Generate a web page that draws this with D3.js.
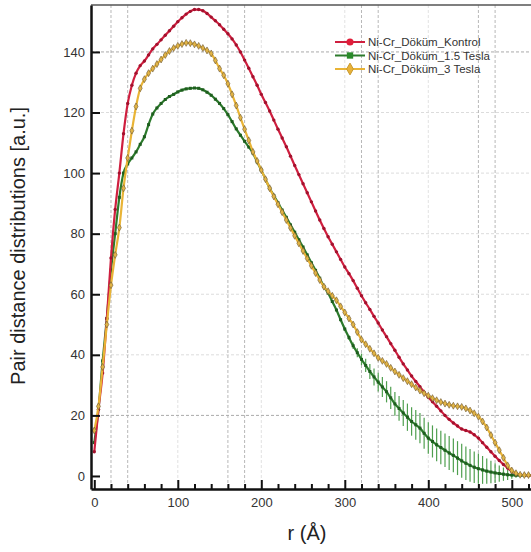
<!DOCTYPE html>
<html>
<head>
<meta charset="utf-8">
<script src="https://cdn.jsdelivr.net/npm/d3@7"></script>
<style>
  body { margin: 0; background: #fff; }
  svg { display: block; font-family: "Liberation Sans", Arial, sans-serif; }
</style>
</head>
<body>
<svg id="chartSvg" width="531" height="552"></svg>
<script>
      // r values (Angstrom), one sample every 5
      var rValues = [0,5,10,15,20,25,30,35,40,45,50,55,60,65,70,75,80,85,90,95,
        100,105,110,115,120,125,130,135,140,145,150,155,160,165,170,175,180,185,190,195,
        200,205,210,215,220,225,230,235,240,245,250,255,260,265,270,275,280,285,290,295,
        300,305,310,315,320,325,330,335,340,345,350,355,360,365,370,375,380,385,390,395,
        400,405,410,415,420,425,430,435,440,445,450,455,460,465,470,475,480,485,490,495,
        500,505,510,515,520,525];

      var kontrolValues = [8,22,34,52,72,88,100,113,123,129,133,135.5,137,139,141,142.5,144,145.5,147,148.5,
        150,151.3,152.5,153.4,154,154,153.6,152.7,151.5,150.3,149,147.5,146,144.3,142.3,140,137.3,134.6,131.8,129,
        126,123.3,120.5,117.5,114.5,111.6,108.7,105.6,102.5,99.5,96.5,93.5,90.5,87.5,84.5,81.7,79,76.5,74,71.5,
        69,66.8,64.5,62,59.5,57.2,55,52.7,50.5,48.2,46,43.7,41.5,39.2,37,35,33,31.2,29.5,27.7,
        26,24.5,23,21.5,20,18.7,17.5,16.5,15.5,15,14.5,13.6,12.5,11,9.5,8,6.5,5.1,3.8,2.6,
        1.5,0.8,0.4,0.3,0.2,0.2];

      var tesla15Values = [11,22,38,52,68,80,92,100,103,105,107,109.5,112,116,119.5,121.5,123,124.3,125.3,126,
        126.8,127.4,127.8,128,128.1,128,127.5,126.7,125.7,124.4,123,121.3,119.3,117,114.6,112.5,110.5,108.6,106.6,103.7,
        101,98,95,92.6,90.2,87.8,85.4,82.9,80.5,78,75.6,73,70.4,67.9,65.3,62.6,60.4,57.6,54.8,51.6,
        48.5,45.7,43,40.7,38.5,36.5,34.5,32.7,31,29.4,27.8,25.8,23.8,22.3,20.8,19.4,18,16.9,15.8,14.1,
        12.5,11.4,10.3,9.4,8.5,7.6,6.8,5.9,5,4.2,3.5,2.9,2.4,2,1.6,1.3,1,0.8,0.6,0.4,
        0.3,0.2,0.2,0.2,0.2,0.2];

      var tesla15Errors = [0,0,0,0,0,0,0,0,0,0,0,0,0,0,0,0,0,0,0,0,
        0,0,0,0,0,0,0,0,0,0,0,0,0,0,0,0,0,0,0,0,
        0,0,0,0,0,0,0,0,0,0,0,0,0,0,0,0,0.2,0.3,0.4,0.5,
        0.6,0.8,1.1,1.5,1.9,2.2,2.5,2.8,3.1,3.3,3.5,3.7,3.9,4.1,4.3,4.5,4.7,4.9,5,5.1,
        5.2,5.3,5.4,5.5,5.5,5.6,5.6,5.6,5.6,5.5,5.4,5.2,5,4.6,4.2,3.7,3.2,2.7,2.2,1.7,
        1.2,0.8,0.5,0.3,0.2,0.2];

      var tesla3Values = [15,23,36,50,63,73,82,95,105,114,122,128,131,133,134.5,136,137.5,139,140.3,141.3,
        142,142.6,143,142.9,142.5,142,141.3,140.5,139.5,137.2,134.5,132.3,129.5,126,122.3,118.3,114.5,110.8,107,104,
        101,98,95,92.3,89.7,87.1,84.5,81.9,79.3,76.8,74.3,71.8,69.4,67,64.7,62.5,61,59.5,58,56,
        54,52,50,47.5,45,43.5,42,40.5,39,38,37,35.7,34.5,33.4,32.3,31.3,30.3,29.2,28.2,27.3,
        26.5,25.7,25,24.4,23.9,23.5,23.2,23,22.8,22.3,21.6,20.7,19.6,18,16,13.5,11,8.5,6,3.5,
        1.8,0.9,0.4,0.3,0.3,0.3];

      var seriesNames = ['Ni-Cr_Döküm_Kontrol', 'Ni-Cr_Döküm_1.5 Tesla', 'Ni-Cr_Döküm_3 Tesla'];

      var yTickValues = [0,20,40,60,80,100,120,140];
      var xMajorTicks = [0,100,200,300,400,500];
      var xMinorTicks = [20,40,60,80,120,140,160,180,220,240,260,280,320,340,360,380,420,440,460,480,520];
      var xGridDark = [20,40,160,180,320,340,460,480];
      var xGridLight = [100,200,300,400];
      var yGridDark = [20,140];
      var yGridLight = [40,60,80,100,120];

      var svg = d3.select('#chartSvg');
      var plot = { left: 91, right: 531, top: 5, bottom: 489 };

      var xScale = d3.scaleLinear().domain([-3.95, 523]).range([plot.left, plot.right]);
      var yScale = d3.scaleLinear().domain([-4.3, 155.5]).range([plot.bottom, plot.top]);

      // grid
      var grid = svg.append('g');
      function vGrid(vals, color) {
        grid.selectAll(null).data(vals).enter().append('line')
          .attr('x1', d => xScale(d)).attr('x2', d => xScale(d))
          .attr('y1', plot.top).attr('y2', plot.bottom)
          .attr('stroke', color).attr('stroke-width', 1).attr('stroke-dasharray', '3,2');
      }
      function hGrid(vals, color) {
        grid.selectAll(null).data(vals).enter().append('line')
          .attr('x1', plot.left).attr('x2', plot.right)
          .attr('y1', d => yScale(d)).attr('y2', d => yScale(d))
          .attr('stroke', color).attr('stroke-width', 1).attr('stroke-dasharray', '3,2');
      }
      vGrid(xGridLight, '#e2e2e2');
      hGrid(yGridLight, '#dcdcdc');
      vGrid(xGridDark, '#b8b8b8');
      hGrid(yGridDark, '#aaaaaa');

      svg.append('clipPath').attr('id', 'plotClip').append('rect')
        .attr('x', plot.left).attr('y', plot.top)
        .attr('width', plot.right - plot.left).attr('height', plot.bottom - plot.top);

      var lines = svg.append('g').attr('clip-path', 'url(#plotClip)');

      function makeData(vals) {
        return rValues.map((r, i) => ({ r: r, v: vals[i], e: 0 }));
      }
      var kontrol = makeData(kontrolValues);
      var tesla15 = makeData(tesla15Values);
      tesla15.forEach((d, i) => d.e = tesla15Errors[i]);
      var tesla3 = makeData(tesla3Values);

      var line = d3.line().x(d => xScale(d.r)).y(d => yScale(d.v)).curve(d3.curveMonotoneX);

      // error bars of 1.5 Tesla
      lines.selectAll('.err').data(tesla15.filter(d => d.e > 0)).enter().append('line')
        .attr('x1', d => xScale(d.r)).attr('x2', d => xScale(d.r))
        .attr('y1', d => yScale(d.v - d.e)).attr('y2', d => yScale(d.v + d.e))
        .attr('stroke', '#4f9f4f').attr('stroke-width', 1.2);

      var styles = [
        { data: tesla15, line: '#2c7a2c', fill: '#1e5e1e', stroke: 'none', sym: d3.symbolSquare, size: 9 },
        { data: kontrol, line: '#cf1f3f', fill: '#a3112d', stroke: 'none', sym: d3.symbolCircle, size: 9 },
        { data: tesla3, line: '#e9b436', fill: '#e2b445', stroke: '#6a5634', sym: d3.symbolDiamond, size: 14 }
      ];

      styles.forEach(s => {
        lines.append('path').datum(s.data)
          .attr('d', line).attr('fill', 'none')
          .attr('stroke', s.line).attr('stroke-width', 2.2);
        lines.selectAll(null).data(s.data).enter().append('path')
          .attr('transform', d => 'translate(' + xScale(d.r) + ',' + yScale(d.v) + ')')
          .attr('d', d3.symbol().type(s.sym).size(s.size))
          .attr('fill', s.fill).attr('stroke', s.stroke).attr('stroke-width', 0.6);
      });

      // frame top
      svg.append('line').attr('x1', plot.left).attr('x2', plot.right)
        .attr('y1', plot.top).attr('y2', plot.top)
        .attr('stroke', '#555').attr('stroke-width', 1.5);

      // axes
      var yAxis = d3.axisLeft(yScale).tickValues(yTickValues).tickSize(-9).tickSizeOuter(0).tickPadding(6);
      svg.append('g').attr('transform', 'translate(' + plot.left + ',0)').call(yAxis);

      var xMinor = d3.axisBottom(xScale).tickValues(xMinorTicks).tickSize(-5).tickSizeOuter(0).tickFormat('');
      svg.append('g').attr('transform', 'translate(0,' + plot.bottom + ')').call(xMinor)
        .select('.domain').remove();
      var xAxis = d3.axisBottom(xScale).tickValues(xMajorTicks).tickSize(-9).tickSizeOuter(0).tickPadding(9);
      svg.append('g').attr('transform', 'translate(0,' + plot.bottom + ')').call(xAxis);

      svg.selectAll('.domain').attr('stroke', '#111').attr('stroke-width', 2.5);
      svg.selectAll('.tick line').attr('stroke', '#111').attr('stroke-width', 2);
      svg.selectAll('.tick text').attr('font-size', 13).attr('fill', '#333')
        .attr('font-family', '"Liberation Sans", Arial, sans-serif');

      // axis titles
      svg.append('text')
        .attr('x', 307).attr('y', 540)
        .attr('text-anchor', 'middle').attr('font-size', 20).attr('fill', '#222')
        .text('r (Å)');
      svg.append('text')
        .attr('transform', 'translate(25,246) rotate(-90)')
        .attr('text-anchor', 'middle').attr('font-size', 20).attr('fill', '#222')
        .text('Pair distance distributions [a.u.]');

      // legend
      var legend = svg.append('g');
      var legendY = [42, 55.5, 69];
      var legendOrder = [1, 0, 2];
      legendOrder.forEach((si, i) => {
        var s = styles[si];
        var y = legendY[i];
        legend.append('line').attr('x1', 335).attr('x2', 365).attr('y1', y).attr('y2', y)
          .attr('stroke', s.line).attr('stroke-width', 2);
        legend.append('path').attr('transform', 'translate(350,' + y + ')')
          .attr('d', d3.symbol().type(s.sym).size(40))
          .attr('fill', si == 0 ? '#2a8a2a' : (si == 1 ? '#e01e3a' : '#e8b23a'))
          .attr('stroke', si == 2 ? '#c99a30' : 'none');
        legend.append('text').attr('x', 368).attr('y', y + 4.2)
          .attr('font-size', 11.5).attr('fill', '#333')
          .text(seriesNames[i]);
      });
</script>
</body>
</html>
